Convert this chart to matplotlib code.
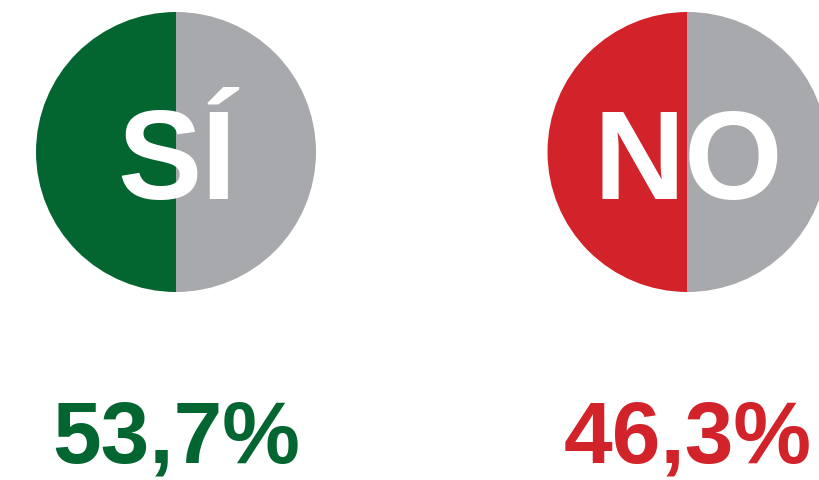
import matplotlib
matplotlib.use("Agg")
import matplotlib.pyplot as plt
from matplotlib.patches import Wedge

# --- données ---
labels = ["SÍ", "NO"]
percents = [53.7, 46.3]
colors = ["#036630", "#D2232A"]
gray = "#A7A9AC"

# --- mise en page (pixels) ---
W, H = 820, 481
centers_x = [176, 687.5]
center_y = 153
radius = 140

fig = plt.figure(figsize=(W / 100, H / 100), dpi=100)
ax = fig.add_axes([0, 0, 1, 1])
ax.set_xlim(0, W)
ax.set_ylim(H, 0)
ax.set_aspect("equal")
ax.axis("off")

font = "Liberation Sans"

for cx, lab, pct, col in zip(centers_x, labels, percents, colors):
    # demi-disque gauche coloré, demi-disque droit gris
    ax.add_patch(Wedge((cx, center_y), radius, 90, 270, facecolor=col, edgecolor="none"))
    ax.add_patch(Wedge((cx, center_y), radius, 270, 90, facecolor=gray, edgecolor="none"))

    ax.text(cx + 1, 199, lab, color="white", fontsize=91, fontweight="bold",
            family=font, ha="center", va="baseline")

    txt = f"{pct:.1f}".replace(".", ",") + "%"
    ax.text(cx, 463, txt, color=col, fontsize=63, fontweight="bold",
            family=font, ha="center", va="baseline")

fig.savefig("out.png", dpi=100)
